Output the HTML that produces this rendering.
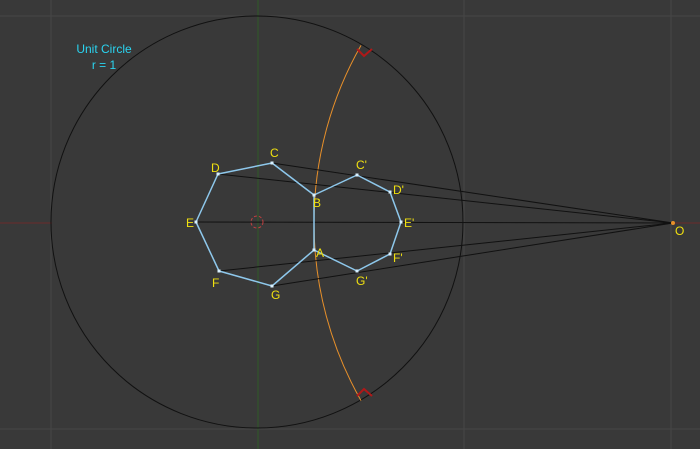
<!DOCTYPE html>
<html><head><meta charset="utf-8"><style>
html,body{margin:0;padding:0;background:#393939;}
svg{display:block;}
text{font-family:"Liberation Sans","DejaVu Sans",sans-serif;}
</style></head><body>
<svg id="chart" width="700" height="449" viewBox="0 0 700 449" xmlns="http://www.w3.org/2000/svg">
<rect width="700" height="449" fill="#393939"/>
<g id="grid" stroke="#464646" stroke-width="1"></g>
<g id="axes"></g>
<g id="marks"></g>
<text x="104" y="53" fill="#2ad4f0" font-size="12" text-anchor="middle">Unit Circle</text>
<text x="104" y="69" fill="#2ad4f0" font-size="12" text-anchor="middle">r = 1</text>
</svg>
<script>
const labels = ["C","D","E","F","G","A","B","C'","D'","E'","F'","G'"];
const px = [272,218,196,219,272,314,314,357,390,401,390,357];
const py = [163,174,222,271,286,250,195,175,192,222,254,271];
const labelDx = [-2,-7,-10,-7,-1,2,-1,-1,3,3,3,-1];
const labelDy = [-6,-2,5,16,13,7,12,-6,2,5,8,14];
const polyEdges = [[0,1],[1,2],[2,3],[3,4],[4,5],[5,6],[6,0],[6,7],[7,8],[8,9],[9,10],[10,11],[11,5]];
const rayFrom = [0,1,3,4];
const originX = 673, originY = 223;
const cx = 257, cy = 222, r = 206;
const gridX = [51,258,464,671];
const gridY = [16,429];

const NS="http://www.w3.org/2000/svg";
function mk(tag,attrs,parent){const e=document.createElementNS(NS,tag);for(const k in attrs)e.setAttribute(k,attrs[k]);parent.appendChild(e);return e;}
const grid=document.getElementById('grid'), axes=document.getElementById('axes'), marks=document.getElementById('marks');
gridX.forEach(x=>{const l=mk('line',{x1:x,y1:0,x2:x,y2:449},grid);

});
gridY.forEach(y=>{const l=mk('line',{x1:0,y1:y,x2:700,y2:y},grid);

});
let a=mk('line',{x1:cx+1,y1:0,x2:cx+1,y2:449,stroke:'#2f5a28','stroke-width':1},axes);


a=mk('line',{x1:0,y1:cy+1,x2:52,y2:cy+1,stroke:'#6a2a2a','stroke-width':1},axes);


a=mk('line',{x1:originX,y1:cy+1,x2:700,y2:cy+1,stroke:'#6a2a2a','stroke-width':1},axes);



let c=mk('circle',{cx:cx,cy:cy,r:r,fill:'none',stroke:'#111','stroke-width':1},marks);


const R=originX-314;
const dy=Math.sqrt(R*R-(originX-361)*(originX-361));
let arc=mk('path',{d:`M361 ${originY-dy} A${R} ${R} 0 0 0 361 ${originY+dy}`,fill:'none',stroke:'#e8902a','stroke-width':1},marks);


let h=mk('line',{x1:px[2],y1:py[2],x2:originX,y2:originY,stroke:'#111','stroke-width':1},marks);


rayFrom.forEach(i=>{const l=mk('line',{x1:px[i],y1:py[i],x2:originX,y2:originY,stroke:'#111','stroke-width':1},marks);

});
let m=mk('path',{d:`M357 49 L364 56 L372 49`,fill:'none',stroke:'#b01818','stroke-width':2},marks);


m=mk('path',{d:`M357 396 L364 389 L372 396`,fill:'none',stroke:'#b01818','stroke-width':2},marks);


m=mk('circle',{cx:cx,cy:cy,r:6,fill:'none',stroke:'#c04040','stroke-width':1,'stroke-dasharray':'3 2'},marks);


polyEdges.forEach(([i,j])=>{const l=mk('line',{x1:px[i],y1:py[i],x2:px[j],y2:py[j],stroke:'#8ec8ec','stroke-width':1.5},marks);

});
labels.forEach((t,i)=>{
const v=mk('rect',{x:px[i]-1.5,y:py[i]-1.5,width:3,height:3,fill:'#d8f0ff'},marks);


const tx=mk('text',{x:px[i]+labelDx[i],y:py[i]+labelDy[i],fill:'#f0e010','font-size':12,'text-anchor':'start'},marks);
tx.textContent=t;


});
let o=mk('circle',{cx:originX,cy:originY,r:2,fill:'#e8902a'},marks);


let ot=mk('text',{x:originX+2,y:originY+12,fill:'#f0e010','font-size':12},marks);
ot.textContent='O';


</script>
</body></html>
